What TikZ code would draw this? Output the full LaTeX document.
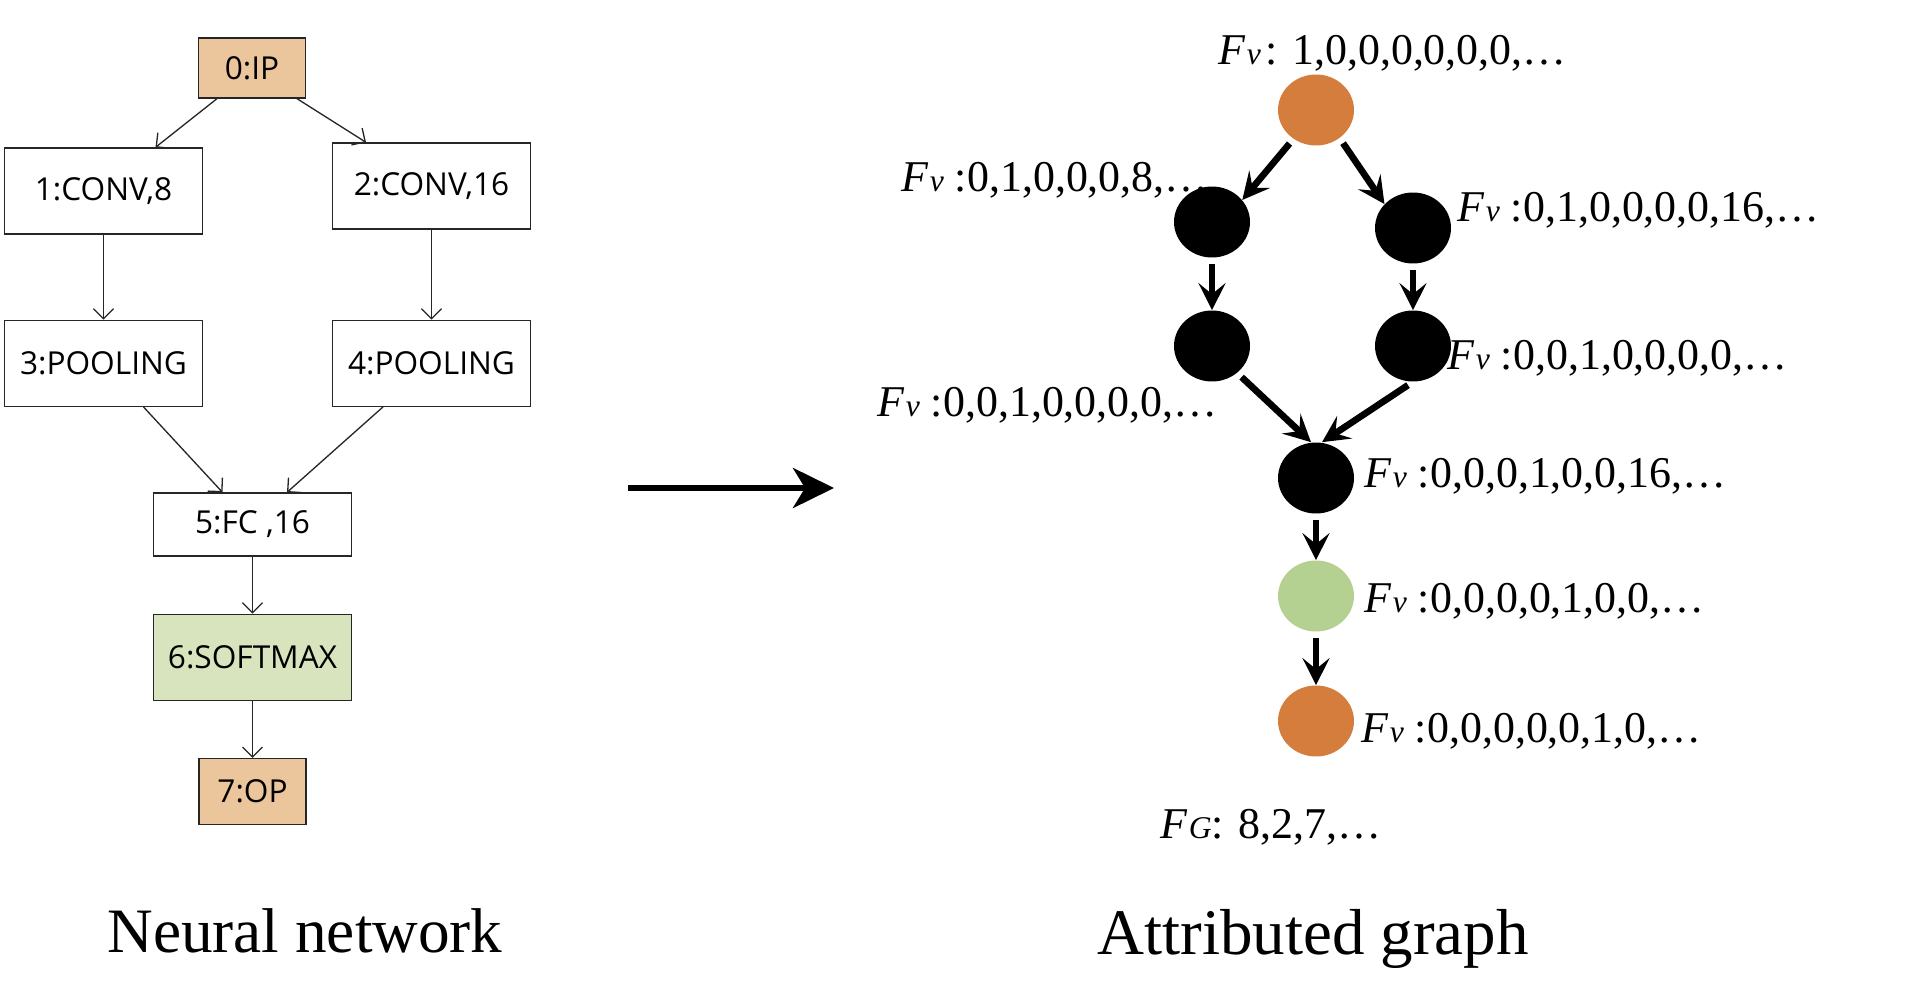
\documentclass[tikz,border=0pt]{standalone}
\usepackage{fontspec}
\setmainfont{Liberation Serif}
\newfontfamily\layerfont{Open Sans}
\usepackage{graphicx}
\usetikzlibrary{arrows.meta, positioning, shapes.geometric}
\definecolor{iopeach}{RGB}{235,197,156}
\definecolor{softgreen}{RGB}{216,228,190}
\definecolor{nodeorange}{RGB}{213,125,60}
\definecolor{nodegreen}{RGB}{180,209,145}
\newcommand{\Fv}{\textit{F\kern0.04em\scalebox{0.72}{v}}}
\newcommand{\FG}{\textit{F\kern0.04em\scalebox{0.72}{G}}}

\begin{document}
\begin{tikzpicture}[
    x=0.02cm, y=-0.02cm,
    layer/.style={
      rectangle,
      draw=black!85,
      line width=0.75pt,
      minimum width=3.96cm,
      minimum height=1.72cm,
      inner sep=0pt,
      font=\layerfont\fontsize{18}{21}\selectfont
    },
    io/.style={layer, minimum width=2.14cm, fill=iopeach},
    thinarrow/.style={
      -{Straight Barb[length=0.2cm, width=0.4cm]},
      line width=0.75pt,
      black!85
    },
    bigarrow/.style={
      -{Stealth[length=0.82cm, width=0.8cm, inset=0.24cm]},
      line width=0.12cm
    },
    vertex/.style={
      ellipse,
      fill=black,
      minimum width=1.52cm,
      minimum height=1.42cm,
      inner sep=0pt
    },
    edge/.style={
      -{Stealth[length=0.54cm, width=0.54cm, inset=0.22cm]},
      line width=3.8pt,
      shorten <=0.12cm
    },
    feat/.style={anchor=base west, inner sep=0pt, font=\fontsize{25}{29}\selectfont},
    caption/.style={anchor=base, inner sep=0pt, font=\fontsize{36}{40}\selectfont}
  ]
    \useasboundingbox (0,0) rectangle (1923,1006);

    % Neural network
    \node[io, minimum height=1.2cm] (ip) at (252,68) {0:IP};
    \node[layer] (c1) at (103.5,191) {1:CONV,8};
    \node[layer] (c2) at (431.5,186) {2:CONV,16};
    \node[layer, below=1.7cm of c1] (p3) {3:POOLING};
    \node[layer, below=1.8cm of c2] (p4) {4:POOLING};
    \node[layer, minimum height=1.26cm] (fc) at (252.5,524.5) {5:FC ,16};
    \node[layer, fill=softgreen, below=1.14cm of fc] (sm) {6:SOFTMAX};
    \node[io, minimum height=1.32cm, below=1.14cm of sm] (op) {7:OP};

    \draw[thinarrow] ([xshift=-0.7cm]ip.south) -- ([xshift=1.04cm]c1.north);
    \draw[thinarrow] ([xshift=0.9cm]ip.south) -- ([xshift=-1.31cm]c2.north);
    \draw[thinarrow] (c1) -- (p3);
    \draw[thinarrow] (c2) -- (p4);
    \draw[thinarrow] ([xshift=0.8cm]p3.south) -- ([xshift=-0.6cm]fc.north);
    \draw[thinarrow] ([xshift=-0.97cm]p4.south) -- ([xshift=0.69cm]fc.north);
    \draw[thinarrow] (fc) -- (sm);
    \draw[thinarrow] (sm) -- (op);

    \node[caption] (nn) at (305,952) {Neural network};

    % Transformation
    \coordinate (tstart) at (628,488);
    \coordinate (tend) at (834,488);
    \draw[bigarrow] (tstart) -- (tend);

    % Feature labels
    \node[feat] (f0) at (1218,65) {\Fv\kern0.1em: 1,0,0,0,0,0,0,…};
    \node[feat] (f1) at (901,192) {\Fv\ :0,1,0,0,0,8,…};
    \node[feat] (f2) at (1457,222) {\Fv\ :0,1,0,0,0,0,16,…};
    \node[feat] (f4) at (1447,370) {\Fv\ :0,0,1,0,0,0,0,…};
    \node[feat] (f3) at (877,417) {\Fv\ :0,0,1,0,0,0,0,…};
    \node[feat] (f5) at (1364,488) {\Fv\ :0,0,0,1,0,0,16,…};
    \node[feat] (f6) at (1364,612) {\Fv\ :0,0,0,0,1,0,0,…};
    \node[feat] (f7) at (1361,742) {\Fv\ :0,0,0,0,0,1,0,…};
    \node[feat] (fg) at (1160,838) {\FG: 8,2,7,…};

    % Attributed graph
    \node[vertex, fill=nodeorange] (v0) at (1316,110) {};
    \node[vertex] (v1) at (1212,222) {};
    \node[vertex] (v2) at (1413,228) {};
    \node[vertex] (v3) at (1212,346) {};
    \node[vertex] (v4) at (1413,346) {};
    \node[vertex] (v5) at (1316,478) {};
    \node[vertex, fill=nodegreen] (v6) at (1316,596) {};
    \node[vertex, fill=nodeorange] (v7) at (1316,721) {};

    \draw[edge] (v0.-128) -- (v1.36);
    \draw[edge] (v0.-50) -- (v2.140);
    \draw[edge] (v1) -- (v3);
    \draw[edge] (v2) -- (v4);
    \draw[edge] (v3.-47) -- ([xshift=-0.1cm]v5.north);
    \draw[edge] (v4.south) -- ([xshift=0.12cm]v5.north);
    \draw[edge] (v5) -- (v6);
    \draw[edge] (v6) -- (v7);

    \node[caption, font=\fontsize{37}{41}\selectfont] (ag) at (1313,954) {Attributed graph};

  \end{tikzpicture}
\end{document}
